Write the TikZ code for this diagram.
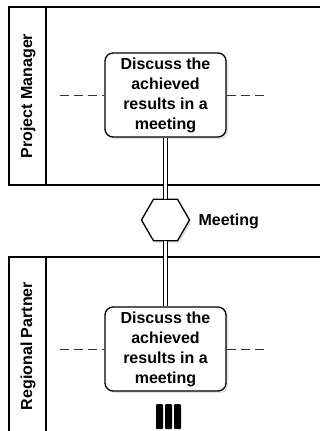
\documentclass[tikz,border=0pt]{standalone}
\usepackage{fontspec}
\setmainfont{Liberation Sans}
\usetikzlibrary{shapes.geometric,shadows}

\begin{document}
\begin{tikzpicture}[x=1pt, y=-1pt, font=\bfseries\fontsize{16}{20}\selectfont,
    lane/.style={line width=1.5pt},
    task/.style={draw, line width=1.3pt, rounded corners=8pt, fill=white,
      minimum width=121pt, minimum height=84pt, align=center, inner sep=0pt,
      drop shadow={shadow xshift=2pt, shadow yshift=-2pt, fill=black!22}},
    gate/.style={draw, line width=1.3pt, regular polygon, regular polygon sides=6,
      minimum size=48pt, inner sep=0pt, fill=white,
      drop shadow={shadow xshift=2pt, shadow yshift=-2pt, fill=black!22}},
    flow/.style={double, double distance=3pt, line width=0.9pt},
    guide/.style={black!80, line width=0.8pt, dash pattern=on 9pt off 5pt}]
  \useasboundingbox (0,0) rectangle (320,431);

  % Lane: Project Manager
  \draw[lane] (9,7) rectangle (340,185);
  \draw[lane] (46,7) -- (46,185);
  \node[rotate=90] (pmlabel) at (28,96) {Project Manager};

  % Lane: Regional Partner
  \draw[lane] (9,460) -- (9,257) -- (340,257);
  \draw[lane] (46,257) -- (46,460);
  \node[rotate=90] (rplabel) at (28,346) {Regional Partner};

  % tasks and the meeting between them
  \node[task] (pmtask) at (165.5,95) {Discuss the\\achieved\\results in a\\meeting};
  \node[task] (rptask) at (165.5,349) {Discuss the\\achieved\\results in a\\meeting};
  \node[gate] (meet) at (165.5,220) {};
  \node[anchor=west] (meetlabel) at (195,221) {Meeting};

  \draw[flow] (pmtask.south) -- (meet.north);
  \draw[flow] (meet.south) -- (rptask.north);

  % dashed guides through the tasks
  \coordinate (pmleft) at (60,95);
  \coordinate (pmright) at (265,95);
  \coordinate (rpleft) at (60,349);
  \coordinate (rpright) at (265,349);
  \draw[guide] (pmleft) -- (pmtask.west);
  \draw[guide] (pmtask.east) -- (pmright);
  \draw[guide] (rpleft) -- (rptask.west);
  \draw[guide] (rptask.east) -- (rpright);

  % parallel marker
  \foreach \bx in {156,165,174}
    \fill[rounded corners=1pt] (\bx,404) rectangle ++(7,25);
\end{tikzpicture}
\end{document}
